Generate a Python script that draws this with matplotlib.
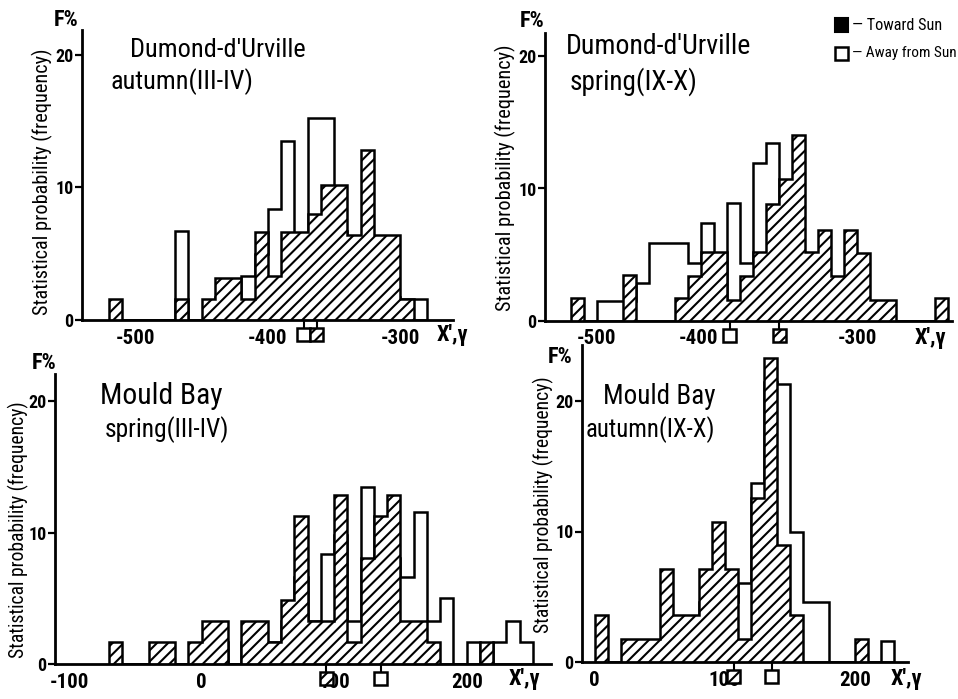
import numpy as np
import matplotlib
matplotlib.use("Agg")
import matplotlib.pyplot as plt
import matplotlib.transforms as mtransforms
import matplotlib.font_manager as fm
from matplotlib.patches import Rectangle
from matplotlib.lines import Line2D

# ---------------- data (percent frequency per 10-gamma bin) ----------------
BIN_WIDTH = 10

du_aut_first = -520
du_aut_toward = [1.6, 0, 0, 0, 0, 1.6, 0, 1.6, 3.2, 3.2, 1.6, 6.6, 3.3, 6.6, 6.6,
                 8.0, 10.2, 10.2, 6.4, 12.8, 6.4, 6.4, 1.6, 0]
du_aut_away = [0, 0, 0, 0, 0, 6.7, 0, 0, 1.7, 1.7, 3.3, 5.0, 8.4, 13.5, 5.0,
               15.2, 15.2, 6.7, 5.0, 3.3, 5.0, 1.7, 1.6, 1.6]
du_aut_mean_toward = -363
du_aut_mean_away = -373

du_spr_first = -520
du_spr_toward = [1.7, 0, 0, 0, 3.5, 0, 0, 0, 1.7, 3.4, 5.2, 5.2, 1.6, 3.4, 5.2,
                 8.8, 10.7, 14.0, 5.2, 6.9, 3.4, 6.9, 5.1, 1.6, 1.6, 0, 0, 0, 1.7]
du_spr_away = [0, 0, 1.5, 1.5, 1.5, 2.9, 5.9, 5.9, 5.9, 4.4, 7.4, 1.5, 8.9, 4.4, 11.9,
               13.4, 8.9, 5.2, 4.4, 3.4, 1.7, 1.7, 0, 0, 0, 0, 0, 0, 0]
du_spr_mean_toward = -360
du_spr_mean_away = -398

mb_spr_first = -70
mb_spr_toward = [1.65, 0, 0, 1.65, 1.65, 0, 1.65, 3.3, 3.3, 0, 3.3, 3.3, 1.65, 4.9,
                 11.3, 3.3, 3.3, 12.9, 1.65, 8.1, 11.3, 12.9, 3.3, 3.3, 1.65, 0, 0,
                 0, 1.65, 0, 0, 0]
mb_spr_away = [0, 0, 0, 0, 0, 0, 0, 0, 1.65, 0, 1.65, 1.65, 1.65, 3.3, 6.6, 3.3,
               8.4, 9.8, 3.3, 13.45, 6.8, 8.1, 6.65, 11.6, 3.3, 5.0, 0, 1.65, 0,
               1.65, 3.3, 1.65]
mb_spr_mean_toward = 94
mb_spr_mean_away = 135

mb_aut_first = 0
mb_aut_toward = [3.6, 0, 1.75, 1.75, 1.75, 7.1, 3.6, 3.6, 7.1, 10.75, 7.1, 1.8,
                 12.55, 23.25, 9.0, 3.6, 0, 0, 0, 0, 1.8, 0, 0]
mb_aut_away = [0, 0, 0, 0, 0, 0, 0, 0, 4.6, 4.6, 4.6, 6.07, 13.7, 21.4, 21.3,
               10.0, 4.6, 4.6, 0, 0, 0, 0, 1.6]
mb_aut_mean_toward = 107
mb_aut_mean_away = 136

du_xticks = [-500, -400, -300]
mb_spr_xticks = [-100, 0, 100, 200]
mb_aut_xticks = [0, 100, 200]
yticks = [0, 10, 20]

# ---------------- fonts ----------------
names = {f.name for f in fm.fontManager.ttflist}
FAMILY, STRETCH = None, 'normal'
for cand in ['Roboto Condensed', 'Liberation Sans Narrow', 'Open Sans Condensed',
             'Noto Sans Condensed', 'Arial Narrow']:
    if cand in names:
        FAMILY = cand
        break
if FAMILY is None:
    for f in fm.fontManager.ttflist:
        if 'condensed' in str(f.stretch).lower() or 'Condensed' in f.fname:
            FAMILY, STRETCH = f.name, 'condensed'
            break
if FAMILY is None:
    FAMILY = 'DejaVu Sans'
FAM = [FAMILY, 'DejaVu Sans']

plt.rcParams['hatch.linewidth'] = 1.5
LW = 1.8

W, H = 958, 699
fig = plt.figure(figsize=(W / 100, H / 100), dpi=100)
fig.patch.set_facecolor('white')


def ftext(px, py, s, size, weight='normal', ha='center', va='center', rotation=0):
    return fig.text(px / W, 1 - py / H, s, fontsize=size, fontweight=weight, ha=ha,
                    va=va, rotation=rotation, family=FAM, fontstretch=STRETCH)


def panel(box, anchor_val, anchor_px, ppu, ppy, first, toward, away, xticks,
          mean_t, mean_a, shifts=None):
    l, t, r, b = box
    ax = fig.add_axes([l / W, 1 - b / H, (r - l) / W, (b - t) / H])
    edges = first + BIN_WIDTH * np.arange(len(toward) + 1)
    ax.stairs(away, edges, fill=True, facecolor='white', edgecolor='black', lw=LW, zorder=2)
    ax.stairs(toward, edges, fill=True, facecolor='white', edgecolor='black',
              hatch='///', lw=LW, zorder=3)
    ax.set_xlim(anchor_val + (l - anchor_px) / ppu, anchor_val + (r - anchor_px) / ppu)
    ax.set_ylim(0, (b - t) / ppy)
    for s in ['top', 'right']:
        ax.spines[s].set_visible(False)
    for s in ['left', 'bottom']:
        ax.spines[s].set_linewidth(2.0)
        ax.spines[s].set_zorder(4)
    ax.set_xticks([])
    ax.set_yticks(yticks)
    ax.set_yticklabels([str(v) for v in yticks], family=FAM, fontstretch=STRETCH,
                       fontweight='bold', fontsize=13)
    ax.tick_params(axis='y', length=5, width=1.6, pad=1)
    axh = b - t
    blend = mtransforms.blended_transform_factory(ax.transData, ax.transAxes)
    shifts = shifts or {}
    for v in xticks:
        ax.text(v + shifts.get(v, 0) / ppu, -18 / axh, str(v), transform=blend,
                ha='center', va='center', fontsize=15, fontweight='bold',
                family=FAM, fontstretch=STRETCH, clip_on=False, zorder=3)
    gap, msz = 8, 13
    for m, hatched in [(mean_a, False), (mean_t, True)]:
        ax.add_line(Line2D([m, m], [0, -gap / axh], transform=blend, color='black',
                           lw=1.5, clip_on=False))
        w = msz / ppu
        ax.add_patch(Rectangle((m - w / 2, -(gap + msz) / axh), w, msz / axh,
                               transform=blend, facecolor='white', edgecolor='black',
                               lw=1.8, hatch='///' if hatched else None,
                               clip_on=False, zorder=6))
    return ax


panel((82, 30, 453, 320), -450, 201.7, 1.325, 13.27, du_aut_first, du_aut_toward,
      du_aut_away, du_xticks, du_aut_mean_toward, du_aut_mean_away)
panel((544.7, 33, 952, 321), -440, 675, 1.30, 13.25, du_spr_first, du_spr_toward,
      du_spr_away, du_xticks, du_spr_mean_toward, du_spr_mean_away, {-400: -28})
panel((55, 374, 551, 664), 0, 201.7, 1.325, 13.13, mb_spr_first, mb_spr_toward,
      mb_spr_away, mb_spr_xticks, mb_spr_mean_toward, mb_spr_mean_away)
panel((582, 345, 908, 662.3), 0, 594.7, 1.30, 13.08, mb_aut_first, mb_aut_toward,
      mb_aut_away, mb_aut_xticks, mb_aut_mean_toward, mb_aut_mean_away)

# ---------------- texts ----------------
renderer = fig.canvas.get_renderer()


def fit(t, target, vertical=False):
    bb = t.get_window_extent(renderer)
    cur = bb.height if vertical else bb.width
    t.set_fontsize(t.get_fontsize() * target / cur)


titles = [
    (130, 50, "Dumond-d'Urville", 175), (110, 82, "autumn(III-IV)", 142),
    (566, 47, "Dumond-d'Urville", 185), (570, 82, "spring(IX-X)", 128),
    (100, 396, "Mould Bay", 122), (105, 430, "spring(III-IV)", 125),
    (603, 396, "Mould Bay", 112), (586, 430, "autumn(IX-X)", 129),
]
for px, py, s, w in titles:
    t = ftext(px, py, s, 20, ha='left')
    fit(t, w)

ylab = "Statistical probability (frequency)"
for px, py, length in [(42, 182, 266), (505, 178, 266), (18, 530, 258), (543, 505, 258)]:
    t = ftext(px, py, ylab, 12, rotation=90)
    fit(t, length, vertical=True)

for px, py in [(66, 20), (532, 21), (44, 363), (560, 357)]:
    ftext(px, py, "F%", 16, weight='bold')

for px, py in [(452, 335), (930, 338), (524, 679), (906, 679)]:
    ftext(px, py, "X',γ", 16, weight='bold')

# legend
fig.add_artist(Rectangle((835 / W, 1 - 32 / H), 13 / W, 14 / H, transform=fig.transFigure,
                         facecolor='black', edgecolor='black', lw=1.5))
fig.add_artist(Rectangle((835 / W, 1 - 60 / H), 13 / W, 13 / H, transform=fig.transFigure,
                         facecolor='white', edgecolor='black', lw=1.8))
t = ftext(852, 25, "— Toward Sun", 8, ha='left')
fit(t, 90)
t = ftext(852, 53, "— Away from Sun", 8, ha='left')
fit(t, 104)

fig.savefig("out.png", dpi=100, facecolor='white')
